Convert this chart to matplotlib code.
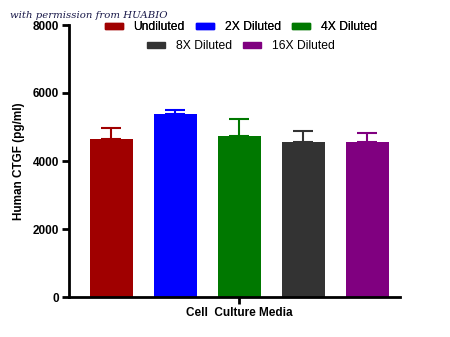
import matplotlib
matplotlib.use("Agg")
import matplotlib.pyplot as plt
from matplotlib.patches import Patch

plt.rcParams["font.family"] = ["Liberation Sans", "DejaVu Sans"]

groups = ["Undiluted", "2X Diluted", "4X Diluted", "8X Diluted", "16X Diluted"]
means = [4650, 5390, 4730, 4570, 4550]
sems = [310, 110, 515, 310, 275]
colors = ["#a00000", "#0000ff", "#007800", "#333333", "#800080"]

fig = plt.figure(figsize=(4.5, 3.37), dpi=100)
ax = fig.add_axes([69 / 450, 40 / 337, 331 / 450, 272 / 337])

x = list(range(len(groups)))
for i in x:
    ax.bar(i, means[i], width=0.67, color=colors[i], zorder=2)
    ax.errorbar(i, means[i], yerr=[[0], [sems[i]]], fmt="none", ecolor=colors[i],
                elinewidth=1.5, capsize=7.4, capthick=1.5, zorder=1)

ax.set_xlim(-0.664, 4.508)
ax.set_ylim(0, 8000)
ax.set_yticks([0, 2000, 4000, 6000, 8000])
ax.set_xticks([2])
ax.set_xticklabels(["Cell  Culture Media"], fontsize=8.5, fontweight="bold")
for lab in ax.get_yticklabels():
    lab.set_fontweight("bold")
    lab.set_fontsize(8.5)
ax.set_ylabel("Human CTGF (pg/ml)", fontsize=8.5, fontweight="bold", labelpad=6)

for s in ["top", "right"]:
    ax.spines[s].set_visible(False)
for s in ["left", "bottom"]:
    ax.spines[s].set_linewidth(2)
ax.tick_params(axis="both", width=2, length=5, pad=2)

h = [Patch(color=c) for c in colors]
opts = dict(frameon=False, fontsize=8.7, handlelength=1.5, handleheight=0.35,
            columnspacing=0.95, handletextpad=0.85, loc="center")
leg1 = fig.legend(h[:3], groups[:3], ncol=3, bbox_to_anchor=(241 / 450, 1 - 27 / 337), **opts)
fig.legend(h[3:], groups[3:], ncol=2, bbox_to_anchor=(241 / 450, 1 - 46 / 337), **opts)
fig.add_artist(leg1)

fig.text(10 / 450, 1 - 16 / 337, "with permission from HUABIO", fontsize=7.3,
         family="DejaVu Serif", style="italic", color="#1a1a4a", va="center")

fig.savefig("out.png", dpi=100)
